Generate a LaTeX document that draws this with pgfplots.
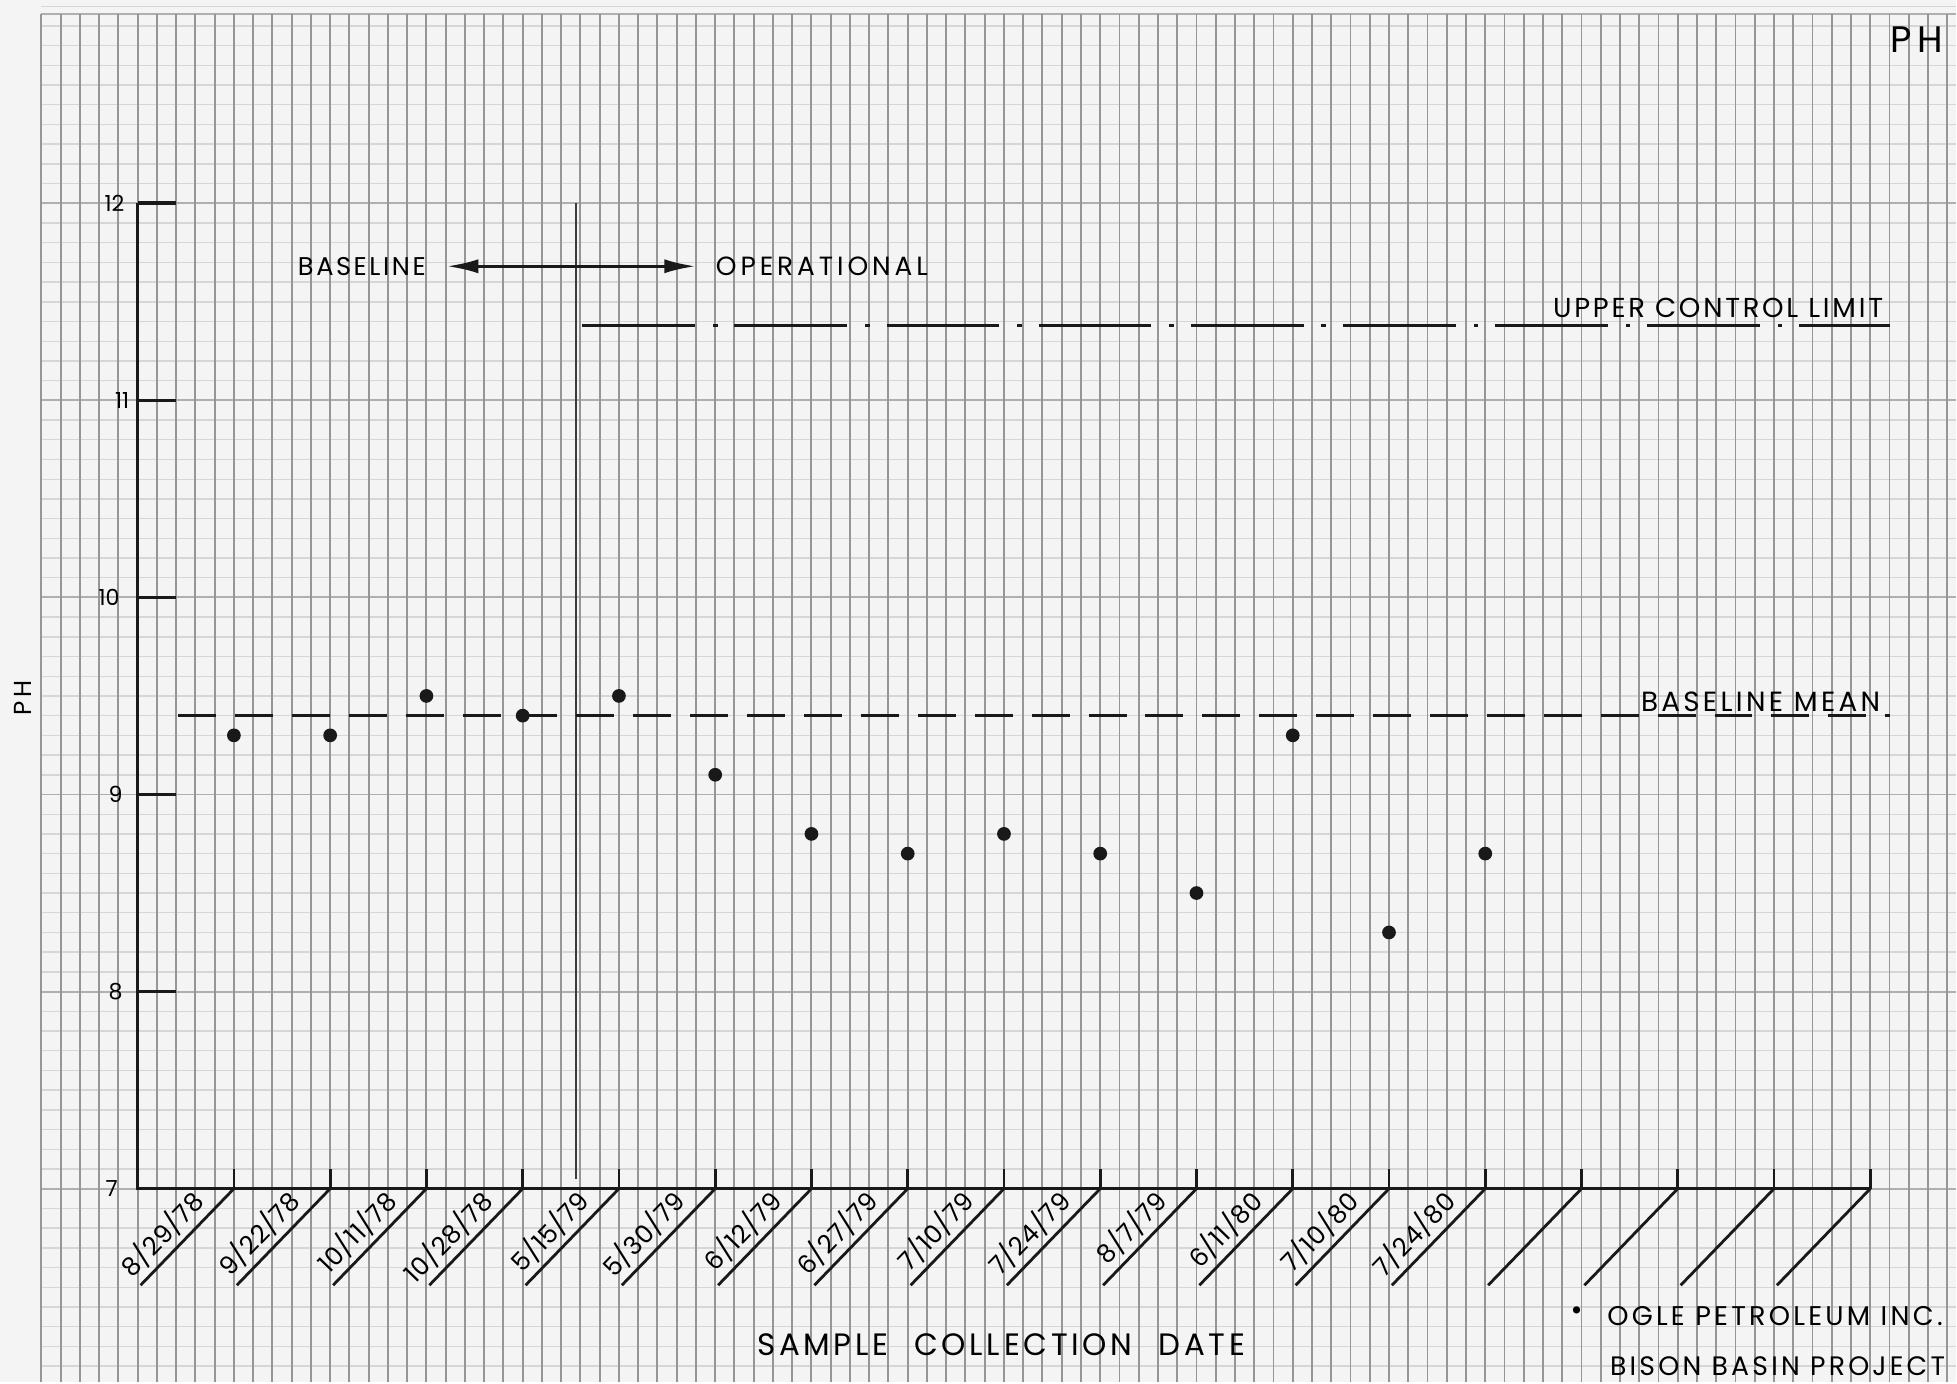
\documentclass[border=0pt]{standalone}
\usepackage{pgfplots}
\pgfplotsset{compat=1.18}
\usetikzlibrary{arrows.meta}
\usepackage{fontspec}
\setmainfont{Poppins}
\newfontfamily\lsA[LetterSpace=10]{Poppins}
\newfontfamily\lsB[LetterSpace=15]{Poppins}
\newfontfamily\lsC[LetterSpace=12]{Poppins}
\newfontfamily\lsD[LetterSpace=3]{Poppins}
\newfontfamily\dv{DejaVu Sans}
\definecolor{paper}{RGB}{244,244,244}
\definecolor{vgrid}{RGB}{150,150,150}
\definecolor{hgrid}{RGB}{214,214,214}
\definecolor{hmaj}{RGB}{175,175,175}
\definecolor{ink}{RGB}{25,25,25}
\tikzset{dl/.style={rotate=46, anchor=south east, inner sep=0pt, font=\lsD\fontsize{7.2}{8}\selectfont}}
\begin{document}
\begin{tikzpicture}
\begin{axis}[
  scale only axis, width=19.57cm, height=13.83cm,
  xmin=-2.43, xmax=17.89, ymin=6.018, ymax=13.031,
  hide axis, clip=false,
]
\fill[paper] (axis cs:-2.43,6.018) rectangle (axis cs:17.89,13.031);
% graph paper
\pgfplotsinvokeforeach{6.1,6.2,...,12.95}{\draw[hgrid, line width=0.4pt] (axis cs:-2,#1) -- (axis cs:17.89,#1);}
\pgfplotsinvokeforeach{7,...,12}{\draw[hmaj, line width=0.55pt] (axis cs:-2,#1) -- (axis cs:17.89,#1);}
\draw[hmaj, line width=0.6pt] (axis cs:-2,12.96) -- (axis cs:17.89,12.96);
\pgfplotsinvokeforeach{-2,-1.8,...,17.85}{\draw[vgrid, line width=0.55pt] (axis cs:#1,6.018) -- (axis cs:#1,12.96);}

% axes
\draw[ink, line width=1pt] (axis cs:-1,12) -- (axis cs:-1,7) -- (axis cs:17,7);
\pgfplotsinvokeforeach{8,...,12}{\draw[ink, line width=1pt] (axis cs:-1,#1) -- (axis cs:-0.6,#1);}
\pgfplotsinvokeforeach{0,...,17}{\draw[ink, line width=0.8pt] (axis cs:#1,7) -- (axis cs:#1,7.1);
  \draw[ink, line width=0.8pt] (axis cs:#1,7) -- ++(axis direction cs:-0.97,-0.49);}

% y tick labels
\node[anchor=east, font=\fontsize{6.3}{7}\selectfont, inner sep=0pt] at (axis cs:-1.13,12) {12};
\node[anchor=east, font=\fontsize{6.3}{7}\selectfont, inner sep=0pt] at (axis cs:-1.08,11) {11};
\node[anchor=east, font=\fontsize{6.3}{7}\selectfont, inner sep=0pt] at (axis cs:-1.18,10) {10};
\node[anchor=east, font=\fontsize{6.3}{7}\selectfont, inner sep=0pt] at (axis cs:-1.15,9) {9};
\node[anchor=east, font=\fontsize{6.3}{7}\selectfont, inner sep=0pt] at (axis cs:-1.15,8) {8};
\node[anchor=east, font=\fontsize{6.3}{7}\selectfont, inner sep=0pt] at (axis cs:-1.2,7) {7};

% date labels
\node[dl] at (axis cs:-0.25,6.912) {8/29/78};
\node[dl] at (axis cs:0.75,6.912) {9/22/78};
\node[dl] at (axis cs:1.75,6.912) {10/11/78};
\node[dl] at (axis cs:2.75,6.912) {10/28/78};
\node[dl] at (axis cs:3.75,6.912) {5/15/79};
\node[dl] at (axis cs:4.75,6.912) {5/30/79};
\node[dl] at (axis cs:5.75,6.912) {6/12/79};
\node[dl] at (axis cs:6.75,6.912) {6/27/79};
\node[dl] at (axis cs:7.75,6.912) {7/10/79};
\node[dl] at (axis cs:8.75,6.912) {7/24/79};
\node[dl] at (axis cs:9.75,6.912) {8/7/79};
\node[dl] at (axis cs:10.75,6.912) {6/11/80};
\node[dl] at (axis cs:11.75,6.912) {7/10/80};
\node[dl] at (axis cs:12.75,6.912) {7/24/80};

% divider and arrow
\draw[ink!85, line width=0.55pt] (axis cs:3.55,12) -- (axis cs:3.55,7.05);
\draw[ink, line width=0.9pt, {Latex[length=9pt,width=4pt]}-{Latex[length=9pt,width=4pt]}] (axis cs:2.21,11.68) -- (axis cs:4.80,11.68);
\node[anchor=east, inner sep=0pt, font=\lsA\fontsize{7.3}{8}\selectfont] at (axis cs:2.0,11.68) {BASELINE};
\node[anchor=west, inner sep=0pt, font=\lsB\fontsize{7.5}{8}\selectfont] at (axis cs:5.0,11.68) {OPERATIONAL};

% control lines
\addplot[ink, line width=0.9pt, dash pattern=on 32.1pt off 5.1pt on 1.3pt off 4.8pt] coordinates {(3.62,11.38) (17.2,11.38)};
\addplot[ink, line width=1pt, dash pattern=on 10.8pt off 5.4pt] coordinates {(-0.58,9.4) (17.2,9.4)};
\node[anchor=east, inner sep=0pt, font=\lsA\fontsize{7.8}{9}\selectfont] at (axis cs:17.14,11.47) {UPPER CONTROL LIMIT};
\node[anchor=east, inner sep=0pt, font=\lsC\fontsize{7.9}{9}\selectfont] at (axis cs:17.11,9.47) {BASELINE MEAN};

% data
\addplot[only marks, mark=*, mark size=1.75pt, ink] coordinates {
(0,9.3) (1,9.3) (2,9.5) (3,9.4) (4,9.5) (5,9.1) (6,8.8) (7,8.7) (8,8.8) (9,8.7) (10,8.5) (11,9.3) (12,8.3) (13,8.7)};

% texts
\node[font=\lsC\fontsize{8.8}{10}\selectfont, inner sep=0pt] at (axis cs:7.97,6.21) {SAMPLE\hspace{0.45em} COLLECTION\hspace{0.45em} DATE};
\node[font=\dv\fontsize{7}{8}\selectfont, inner sep=0pt] at (axis cs:13.95,6.37) {•};
\node[anchor=west, inner sep=0pt, font=\lsC\fontsize{7.7}{9}\selectfont] at (axis cs:14.26,6.355) {OGLE PETROLEUM INC.};
\node[anchor=west, inner sep=0pt, font=\lsC\fontsize{7.6}{9}\selectfont] at (axis cs:14.29,6.10) {BISON BASIN PROJECT};
\node[inner sep=0pt, font=\lsB\fontsize{10.5}{12}\selectfont] at (axis cs:17.48,12.83) {PH};
\node[rotate=90, inner sep=0pt, font=\lsB\fontsize{7}{8}\selectfont] at (axis cs:-2.196,9.49) {PH};
\end{axis}
\end{tikzpicture}
\end{document}
